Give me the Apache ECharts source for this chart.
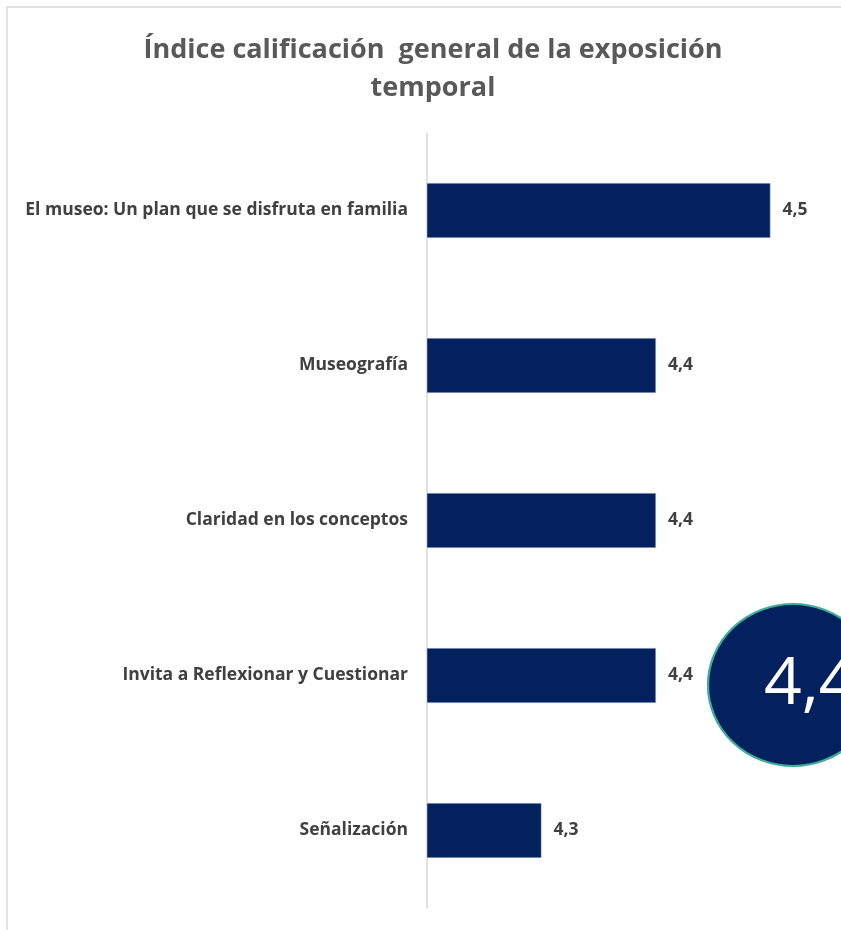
<!DOCTYPE html>
<html>
<head>
<meta charset="utf-8">
<script src="https://cdn.jsdelivr.net/npm/echarts@6/dist/echarts.min.js"></script>
<style>
  html, body { margin: 0; padding: 0; background: #fff; }
  #chart { width: 841px; height: 930px; }
</style>
</head>
<body>
<div id="chart"></div>
<script>
// categories from top to bottom
const categories = [
  'El museo: Un plan que se disfruta en familia',
  'Museografía',
  'Claridad en los conceptos',
  'Invita a Reflexionar y Cuestionar',
  'Señalización'
];
const values = [4.5, 4.4, 4.4, 4.4, 4.3];
const overallScore = '4,4';

const myChart = echarts.init(document.getElementById('chart'));
const font = '"Open Sans", "Noto Sans", sans-serif';

var option = {
  animation: false,
  title: {
    text: 'Índice calificación  general de la exposición\ntemporal',
    left: 428,
    top: 26,
    textAlign: 'center',
    textStyle: {
      color: '#595959',
      fontSize: 27,
      fontWeight: 'bold',
      fontFamily: font,
      lineHeight: 38
    }
  },
  grid: {
    left: 427,
    width: 458,
    top: 133,
    bottom: 22,
    outerBoundsMode: 'none'
  },
  xAxis: {
    type: 'value',
    min: 4.2,
    max: 4.6,
    show: false
  },
  yAxis: {
    type: 'category',
    inverse: true,
    data: categories,
    axisLine: { show: true, lineStyle: { color: '#d9d9d9', width: 1.5 } },
    axisTick: { show: false },
    axisLabel: {
      color: '#404040',
      fontSize: 17.5,
      fontWeight: 'bold',
      fontFamily: font,
      margin: 19
    }
  },
  series: [
    {
      type: 'bar',
      data: values,
      barWidth: 55,
      itemStyle: {
        color: '#03215f',
        borderColor: '#c9d6e8',
        borderWidth: 0.5
      },
      label: {
        show: true,
        position: 'right',
        distance: 12,
        color: '#404040',
        fontSize: 17.5,
        fontWeight: 'bold',
        fontFamily: font,
        formatter: p => p.value.toFixed(1).replace('.', ',')
      }
    }
  ],
  graphic: [
    {
      type: 'line',
      shape: { x1: 7, y1: 7, x2: 841, y2: 7 },
      style: { stroke: '#d9d9d9', lineWidth: 1.5 }
    },
    {
      type: 'line',
      shape: { x1: 7, y1: 7, x2: 7, y2: 930 },
      style: { stroke: '#d9d9d9', lineWidth: 1.5 }
    },
    {
      type: 'circle',
      x: 793,
      y: 685,
      scaleX: 85 / 81,
      shape: { cx: 0, cy: 0, r: 81 },
      style: { fill: '#03215f', stroke: '#3fae96', lineWidth: 2.2 },
      z: 10
    },
    {
      type: 'text',
      x: 764,
      y: 685,
      style: {
        text: overallScore,
        fill: '#ffffff',
        fontSize: 66,
        fontFamily: font,
        verticalAlign: 'middle'
      },
      z: 11
    }
  ]
};

myChart.setOption(option);
</script>
</body>
</html>
